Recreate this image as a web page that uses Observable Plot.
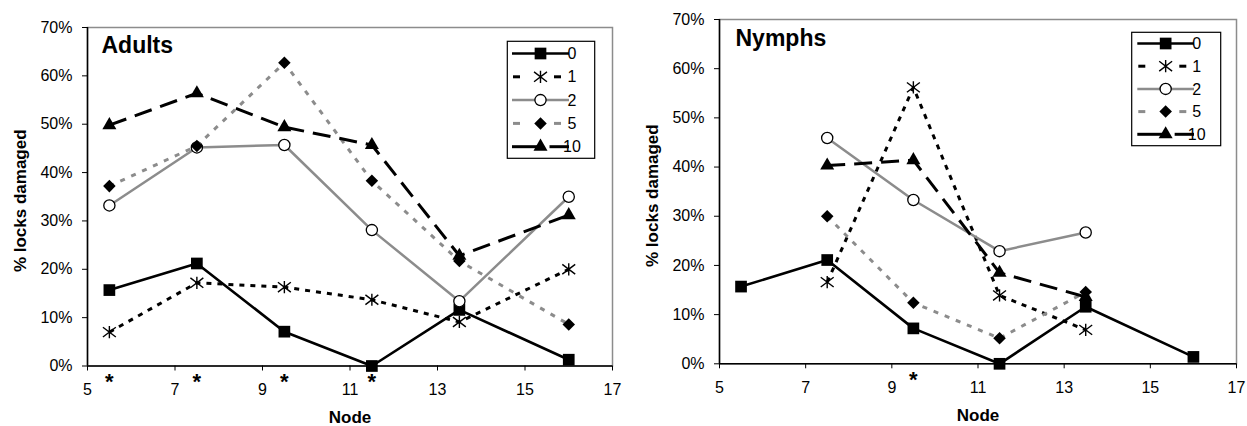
<!DOCTYPE html>
<html>
<head>
<meta charset="utf-8">
<script src="https://cdn.jsdelivr.net/npm/d3@7"></script>
<script src="https://cdn.jsdelivr.net/npm/@observablehq/plot@0.6"></script>
<style>
  html, body { margin: 0; padding: 0; background: #fff; }
  #wrap { display: flex; width: 1247px; height: 426px; }
</style>
</head>
<body>
<div id="wrap"></div>
<script>
// ---------- data ----------
const seriesNames = ["0", "1", "2", "5", "10"];

const adultNodes = [5.5, 7.5, 9.5, 11.5, 13.5, 16];
const adult0  = [15.7, 21.2, 7.1, 0.0, 11.6, 1.3];
const adult1  = [7.0, 17.2, 16.3, 13.7, 9.1, 20.0];
const adult2  = [33.2, 45.2, 45.7, 28.1, 13.4, 35.0];
const adult5  = [37.2, 45.5, 62.7, 38.3, 21.7, 8.6];
const adult10 = [49.8, 56.4, 49.4, 45.7, 22.8, 31.2];

const nymphNodes0 = [5.5, 7.5, 9.5, 11.5, 13.5, 16];
const nymphNodes  = [7.5, 9.5, 11.5, 13.5];
const nymph0  = [15.7, 21.1, 7.2, 0.0, 11.6, 1.4];
const nymph1  = [16.6, 56.2, 13.9, 6.9];
const nymph2  = [45.9, 33.3, 22.9, 26.7];
const nymph5  = [30.0, 12.4, 5.2, 14.6];
const nymph10 = [40.3, 41.4, 18.5, 13.6];

const adultSig = [5.5, 7.5, 9.5, 11.5];
const nymphSig = [9.5];

const xTicks = [5, 7, 9, 11, 13, 15, 17];
const yTicks = [0, 10, 20, 30, 40, 50, 60, 70];

// ---------- styles ----------
const diamond = {
  draw(ctx, size) {
    const r = Math.sqrt(size / 2);
    ctx.moveTo(0, -r); ctx.lineTo(r, 0); ctx.lineTo(0, r); ctx.lineTo(-r, 0); ctx.closePath();
  }
};
const asterisk = {
  draw(ctx, size) {
    const r = Math.sqrt(size / Math.PI);
    const dx = r * 0.95, dy = r * 0.72, v = r * 0.9;
    ctx.moveTo(0, -v); ctx.lineTo(0, v);
    ctx.moveTo(-dx, -dy); ctx.lineTo(dx, dy);
    ctx.moveTo(-dx, dy); ctx.lineTo(dx, -dy);
  }
};
const styles = {
  "0":  {stroke: "#000", width: 2.6, dash: null,  symbol: "square", d3sym: d3.symbolSquare, r: 6.6, fill: "#000", mstroke: "none", msw: 0},
  "1":  {stroke: "#000", width: 3,   dash: "5,6", symbol: asterisk, d3sym: asterisk, r: 6.8, fill: "none", mstroke: "#000", msw: 1.4},
  "2":  {stroke: "#8c8c8c", width: 2.5, dash: null, symbol: "circle", d3sym: d3.symbolCircle, r: 5.6, fill: "#fff", mstroke: "#000", msw: 1.3},
  "5":  {stroke: "#8c8c8c", width: 3, dash: "5,7", symbol: diamond, d3sym: diamond, r: 5.0, fill: "#000", mstroke: "none", msw: 0},
  "10": {stroke: "#000", width: 3,   dash: "18,9", symbol: "triangle", d3sym: d3.symbolTriangle, r: 5.2, fill: "#000", mstroke: "none", msw: 0}
};

function rows(nodes, vals, s) { return nodes.map((n, i) => ({node: n, pct: vals[i], series: s})); }

function makeChart(opts) {
  const {width, marginLeft, marginRight, marginTop, marginBottom, data, sig, title, legend} = opts;
  const marks = [
    Plot.frame({stroke: "#8c8c8c", strokeWidth: 1.5}),
  ];
  for (const s of seriesNames) {
    const d = data[s];
    if (!d) continue;
    const st = styles[s];
    marks.push(Plot.line(d, {x: "node", y: "pct", stroke: st.stroke, strokeWidth: st.width,
      strokeDasharray: st.dash, strokeLinecap: "butt", strokeLinejoin: "miter"}));
    marks.push(Plot.dot(d, {x: "node", y: "pct", symbol: () => st.symbol, r: st.r,
      fill: st.fill, stroke: st.mstroke, strokeWidth: st.msw}));
  }
  marks.push(
    Plot.ruleY([0], {stroke: "#000", strokeWidth: 1.5}),
    Plot.ruleX([5], {stroke: "#000", strokeWidth: 1.5}),
    Plot.axisX({ticks: xTicks, tickSize: 5, tickPadding: 13, tickFormat: d => d, label: null, fontSize: 16}),
    Plot.axisY({ticks: yTicks, tickSize: 5, tickPadding: 10, tickFormat: d => d + "%", label: null, fontSize: 16}),
    Plot.text(sig, {x: d => d, frameAnchor: "bottom", dy: 16, text: () => "*", fontWeight: "bold", fontSize: 22, lineAnchor: "middle"}),
    Plot.text([title], {frameAnchor: "top-left", dx: opts.titleDx, dy: opts.titleDy, textAnchor: "start", lineAnchor: "middle",
      fontWeight: "bold", fontSize: 23}),
    Plot.text(["% locks damaged"], {frameAnchor: "left", dx: -67, dy: 4, rotate: -90, textAnchor: "middle",
      lineAnchor: "middle", fontWeight: "bold", fontSize: 17}),
    Plot.text(["Node"], {frameAnchor: "bottom", dy: 52, textAnchor: "middle", lineAnchor: "middle",
      fontWeight: "bold", fontSize: 17})
  );
  const svg = Plot.plot({
    width, height: 426, marginLeft, marginRight, marginTop, marginBottom,
    x: {domain: [5, 17]},
    y: {domain: [0, 70]},
    style: {fontFamily: "'Liberation Sans', Arial, sans-serif", fontSize: "16px", color: "#000", background: "#fff", overflow: "visible"},
    marks
  });
  // legend
  const g = d3.select(svg).append("g");
  g.append("rect").attr("x", legend.x).attr("y", legend.y).attr("width", legend.w).attr("height", legend.h)
    .attr("fill", "#fff").attr("stroke", "#000").attr("stroke-width", 1.2);
  const seg = (x1, x2, y, st) => g.append("line").attr("x1", x1).attr("x2", x2).attr("y1", y).attr("y2", y)
      .attr("stroke", st.stroke).attr("stroke-width", st.width);
  seriesNames.forEach((s, i) => {
    const st = styles[s];
    const y = legend.row0 + i * legend.step;
    const x0 = legend.lx0, x1 = legend.lx1, cx = (x0 + x1) / 2;
    if (s === "0" || s === "2") {
      seg(x0, x1, y, st);
    } else if (s === "1" || s === "5") {
      seg(x0 + 1, x0 + 8, y, st);
      seg(x0 + 42, x0 + 49, y, st);
    } else {
      seg(x0, cx, y, st);
      seg(cx + 9, x1, y, st);
    }
    g.append("path").attr("transform", `translate(${cx},${y})`)
      .attr("d", d3.symbol(st.d3sym, st.r * st.r * Math.PI)())
      .attr("fill", st.fill).attr("stroke", st.mstroke).attr("stroke-width", st.msw);
    g.append("text").attr("x", legend.tx).attr("y", y).attr("dy", "0.35em")
      .attr("font-size", 16).attr("fill", "#000").text(s);
  });
  return svg;
}

const adultData = {
  "0": rows(adultNodes, adult0, "0"),
  "1": rows(adultNodes, adult1, "1"),
  "2": rows(adultNodes, adult2, "2"),
  "5": rows(adultNodes, adult5, "5"),
  "10": rows(adultNodes, adult10, "10")
};
const nymphData = {
  "0": rows(nymphNodes0, nymph0, "0"),
  "1": rows(nymphNodes, nymph1, "1"),
  "2": rows(nymphNodes, nymph2, "2"),
  "5": rows(nymphNodes, nymph5, "5"),
  "10": rows(nymphNodes, nymph10, "10")
};

const wrap = document.getElementById("wrap");
wrap.appendChild(makeChart({
  width: 623, marginLeft: 87, marginRight: 11, marginTop: 27, marginBottom: 60.5,
  data: adultData, sig: adultSig, title: "Adults", titleDx: 14, titleDy: 18,
  legend: {x: 507.3, y: 41.3, w: 87.4, h: 117, row0: 53.5, step: 23.3, lx0: 512, lx1: 569, tx: 572}
}));
wrap.appendChild(makeChart({
  width: 624, marginLeft: 96, marginRight: 11, marginTop: 19, marginBottom: 62.7,
  data: nymphData, sig: nymphSig, title: "Nymphs", titleDx: 16, titleDy: 19.3,
  legend: {x: 508.7, y: 32.3, w: 89, h: 113.4, row0: 43.5, step: 22.7, lx0: 514.3, lx1: 571, tx: 573.7}
}));
</script>
</body>
</html>
